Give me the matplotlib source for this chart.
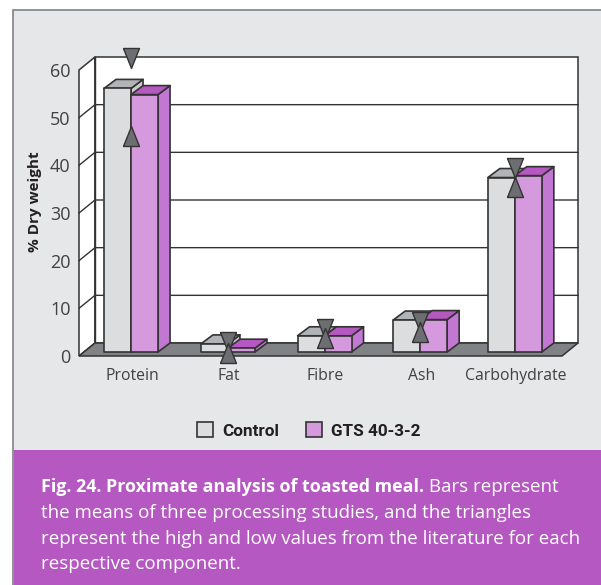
import matplotlib
matplotlib.use("Agg")
import matplotlib.pyplot as plt
from matplotlib.patches import Rectangle, Patch

categories = ["Protein", "Fat", "Fibre", "Ash", "Carbohydrate"]
category_pos = [0.487, 1.49, 2.49, 3.48, 4.46]
control = [55.3, 1.7, 3.4, 6.7, 36.6]
gts = [54.0, 0.8, 3.4, 6.8, 37.0]
lit_high = [62.5, 2.9, 5.7, 7.1, 39.4]
lit_low = [46.2, 0.6, 3.8, 5.0, 35.4]
yticks = [0, 10, 20, 30, 40, 50, 60]
series_names = ["Control", "GTS 40-3-2"]
caption_bold = "Fig. 24. Proximate analysis of toasted meal."
caption_first = " Bars represent"
caption_rest = ["the means of three processing studies, and the triangles",
                "represent the high and low values from the literature for each",
                "respective component."]

W, H = 601, 585
plt.rcParams['font.family'] = ['Open Sans', 'DejaVu Sans']
fig = plt.figure(figsize=(W/100, H/100), dpi=100, facecolor='white')
TXT = '#414042'; EDGE = '#333333'

def fx(x): return x/W
def fy(y): return 1-y/H

fig.add_artist(Rectangle((fx(13), fy(595)), fx(W), 585/H, transform=fig.transFigure,
                         fc='#e6e7e8', ec='#808285', lw=1.2, zorder=-5))
fig.add_artist(Rectangle((fx(14), fy(585)), fx(W-14), 135/H, transform=fig.transFigure,
                         fc='#b558c1', ec='none', zorder=-4))

PW, PH = 483, 286
ax = fig.add_axes([fx(79), fy(356), PW/W, PH/H])
ax.set_xlim(0, 5); ax.set_ylim(0, 60)
ax.patch.set_visible(False)
for s in ax.spines.values():
    s.set_visible(False)
ux = 5/PW; uy = 60/PH   # data units per pixel

# walls and floor
bx, by = 16*ux, 13*uy
ax.fill([0, bx, bx, 0], [0, by, 60+by, 60], fc='white', ec=EDGE, lw=1.1, clip_on=False, zorder=1)
ax.fill([bx, 5+bx, 5+bx, bx], [by, by, 60+by, 60+by], fc='white', ec=EDGE, lw=1.1, clip_on=False, zorder=1)
ax.fill([0, 5, 5+bx, bx], [0, 0, by, by], fc='#808285', ec=EDGE, lw=1.1, clip_on=False, zorder=2)
for t in yticks[1:-1]:
    ax.plot([0, bx, 5+bx], [t, t+by, t+by], color=EDGE, lw=1.0, clip_on=False, zorder=1.5)
ax.plot([bx, bx], [by, 60+by], color=EDGE, lw=1.0, clip_on=False, zorder=1.5)

# bars
ox, oy = 5*ux, 4*uy
dx, dy = 12*ux, 9*uy
bw = 27*ux
styles = [('#dcddde', '#b1b3b6', '#c9cacc'), ('#d59ade', '#b558c1', '#c278d2')]
z = 3
for i, pos in enumerate(category_pos):
    for j, vals in enumerate((control, gts)):
        x0 = pos+ox-bw+j*bw; x1 = x0+bw
        y0 = oy; y1 = oy+vals[i]
        front, top, side = styles[j]
        kw = dict(ec=EDGE, lw=1.2, clip_on=False, joinstyle='round')
        ax.fill([x1, x1+dx, x1+dx, x1], [y0, y0+dy, y1+dy, y1], fc=side, zorder=z, **kw)
        ax.fill([x0, x0+dx, x1+dx, x1], [y1, y1+dy, y1+dy, y1], fc=top, zorder=z, **kw)
        ax.fill([x0, x1, x1, x0], [y0, y0, y1, y1], fc=front, zorder=z, **kw)
        z += 1

# literature high / low markers
tri_down = [(-0.8, 1), (0.8, 1), (0, -1), (-0.8, 1)]
tri_up = [(-0.8, -1), (0.8, -1), (0, 1), (-0.8, -1)]
xs = [p+ox for p in category_pos]
for vals, mk in ((lit_high, tri_down), (lit_low, tri_up)):
    ax.plot(xs, vals, ls='none', marker=mk, ms=14.4, mfc='#6d6e71', mec=EDGE, mew=1.0,
            clip_on=False, zorder=50)

ax.set_yticks(yticks)
ax.set_xticks([p+ox+0.01 for p in category_pos], categories)
ax.tick_params(axis='y', length=0, pad=6, labelsize=13, labelcolor=TXT)
ax.tick_params(axis='x', length=0, pad=8.7, labelsize=11.3, labelcolor=TXT)

fig.text(fx(35.5), fy(201.5), "% Dry weight", rotation=90, ha='center', va='center',
         fontsize=11, fontweight='bold', color='#231f20')

handles = [Patch(fc=styles[0][0], ec=EDGE, lw=1.2), Patch(fc=styles[1][0], ec=EDGE, lw=1.2)]
fig.legend(handles, series_names, loc='center', bbox_to_anchor=(fx(309), fy(430.5)), ncol=2,
           frameon=False, handlelength=0.94, handleheight=0.95, handletextpad=0.53, columnspacing=1.55,
           prop={'family': 'Roboto', 'weight': 'bold', 'size': 12.3}, labelcolor='#231f20')

# caption
cap = dict(color='white', va='center', ha='left')
t = fig.text(fx(41), fy(487.5), caption_bold, fontweight='bold', fontsize=12.9, **cap)
fig.canvas.draw()
ext = t.get_window_extent()
fig.text(ext.x1/W, fy(487.5), caption_first, fontsize=13.5, **cap)
for k, line in enumerate(caption_rest):
    fig.text(fx(41), fy(513+25.7*k), line, fontsize=13.5, **cap)

fig.savefig("out.png", dpi=100, facecolor='white')
